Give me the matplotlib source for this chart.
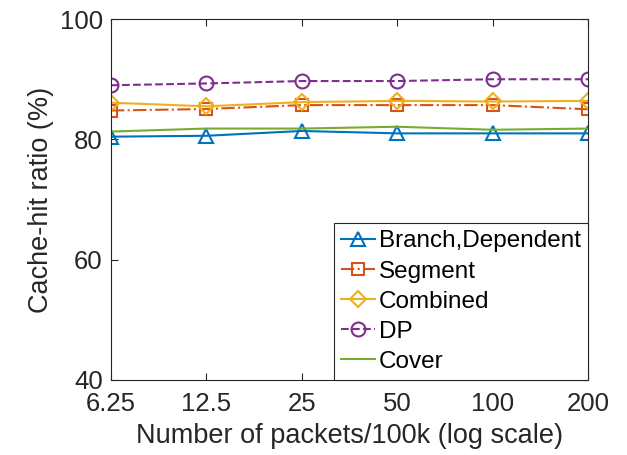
import numpy as np
import matplotlib
matplotlib.use('Agg')
import matplotlib.pyplot as plt

plt.rcParams['font.family'] = ['Liberation Sans', 'DejaVu Sans']

packets = [6.25, 12.5, 25, 50, 100, 200]
tick_labels = ['6.25', '12.5', '25', '50', '100', '200']

branch = [80.45, 80.6, 81.4, 81.0, 81.0, 81.0]
segment = [84.8, 85.05, 85.7, 85.7, 85.7, 85.0]
combined = [86.1, 85.5, 86.2, 86.4, 86.3, 86.4]
dp = [89.0, 89.3, 89.7, 89.7, 90.0, 90.0]
cover = [81.3, 81.8, 81.8, 82.1, 81.6, 81.8]

fig = plt.figure(figsize=(6.27, 4.55), dpi=100)
ax = fig.add_axes([0.177, 0.165, 0.761, 0.793])

ax.plot(packets, branch, '-^', color='#0072BD', mfc='none', ms=10, mew=1.5, lw=1.5, label='Branch,Dependent')
ax.plot(packets, segment, '-.s', color='#D95319', mfc='none', ms=8.5, mew=1.5, lw=1.5, label='Segment')
ax.plot(packets, combined, '-D', color='#EDB120', mfc='none', ms=8.5, mew=1.5, lw=1.5, label='Combined')
ax.plot(packets, dp, '--o', color='#7E2F8E', mfc='none', ms=10, mew=1.5, lw=1.5, label='DP')
ax.plot(packets, cover, '-', color='#77AC30', lw=1.5, label='Cover')

ax.set_xscale('log')
ax.set_xlim(6.25, 200)
ax.set_xticks(packets)
ax.set_xticklabels(tick_labels)
ax.minorticks_off()
ax.set_ylim(40, 100)
ax.set_yticks([40, 60, 80, 100])
ax.tick_params(direction='in', top=True, right=True, labelsize=18.5, length=5, colors='#262626')
ax.tick_params(axis='x', pad=9)
ax.tick_params(axis='y', pad=6)
for s in ax.spines.values():
    s.set_color('#262626')
ax.set_xlabel('Number of packets/100k (log scale)', fontsize=19.5, color='#262626', labelpad=5)
ax.set_ylabel('Cache-hit ratio (%)', fontsize=19.5, color='#262626', labelpad=4)

leg = ax.legend(loc='lower right', fontsize=17.5, handlelength=1.4, handletextpad=0.15,
                borderaxespad=0.0, labelspacing=0.33, fancybox=False, framealpha=1,
                edgecolor='#262626', borderpad=0.3)
leg.get_frame().set_linewidth(0.8)

fig.savefig('out.png', dpi=100)
